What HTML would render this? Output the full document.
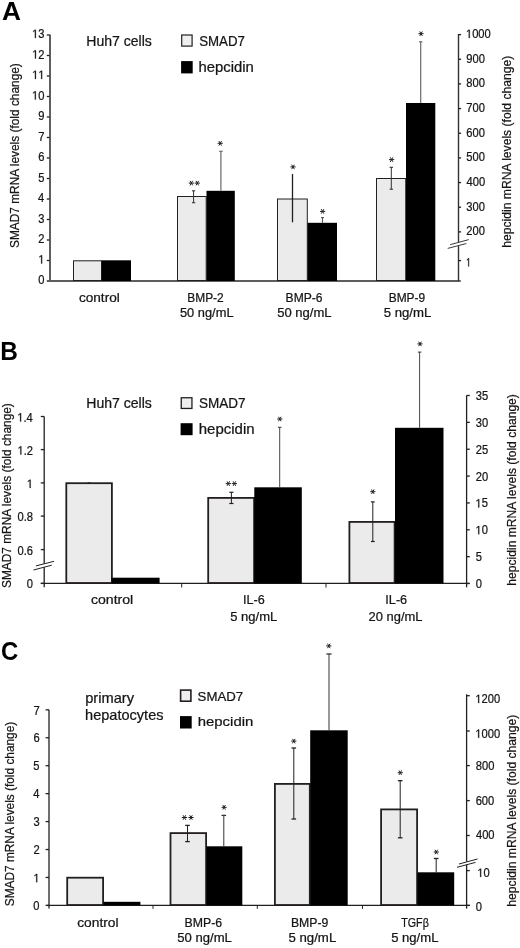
<!DOCTYPE html>
<html><head><meta charset="utf-8"><style>
html,body{margin:0;padding:0;background:#fff;overflow:hidden;width:520px;height:948px;}
svg{display:block;font-family:"Liberation Sans",sans-serif;will-change:transform;}
</style></head><body>
<svg width="520" height="948" viewBox="0 0 520 948">
<rect x="0" y="0" width="520" height="948" fill="#fff"/>
<text x="1.95" y="19.60" font-size="25" font-weight="bold" textLength="18.94" lengthAdjust="spacingAndGlyphs" fill="#000">A</text>
<text x="86.25" y="45.90" font-size="14" textLength="65.66" lengthAdjust="spacingAndGlyphs" fill="#151515" stroke="#151515" stroke-width="0.24">Huh7 cells</text>
<rect x="181.70" y="35.00" width="10.40" height="11.10" fill="#efefef" stroke="#231f20" stroke-width="1.2"/>
<text x="199.20" y="46.00" font-size="14" textLength="45.67" lengthAdjust="spacingAndGlyphs" fill="#151515" stroke="#151515" stroke-width="0.24">SMAD7</text>
<rect x="181.10" y="61.10" width="11.60" height="12.30" fill="#000"/>
<text x="198.57" y="72.20" font-size="14" textLength="55.29" lengthAdjust="spacingAndGlyphs" fill="#151515" stroke="#151515" stroke-width="0.24">hepcidin</text>
<line x1="50.00" y1="34.50" x2="50.00" y2="282.00" stroke="#5e5e5e" stroke-width="2.0"/>
<line x1="46.80" y1="281.00" x2="49.50" y2="281.00" stroke="#231f20" stroke-width="1.3"/>
<text x="38.23" y="284.00" font-size="12" textLength="6.21" lengthAdjust="spacingAndGlyphs" fill="#151515" stroke="#151515" stroke-width="0.24">0</text>
<line x1="46.80" y1="260.50" x2="49.50" y2="260.50" stroke="#231f20" stroke-width="1.3"/>
<path transform="translate(38.338,263.500) scale(0.00545,-0.00586)" d="M515,0L696,0L696,1409L530,1409L197,1180L197,1010L515,1237Z" fill="#151515" stroke="#151515" stroke-width="44.0"/>
<text x="38.34" y="263.50" font-size="12" textLength="6.21" lengthAdjust="spacingAndGlyphs" fill="#151515" stroke="#151515" stroke-width="0.24"> </text>
<line x1="46.80" y1="240.00" x2="49.50" y2="240.00" stroke="#231f20" stroke-width="1.3"/>
<text x="38.35" y="243.00" font-size="12" textLength="6.21" lengthAdjust="spacingAndGlyphs" fill="#151515" stroke="#151515" stroke-width="0.24">2</text>
<line x1="46.80" y1="219.50" x2="49.50" y2="219.50" stroke="#231f20" stroke-width="1.3"/>
<text x="38.28" y="222.50" font-size="12" textLength="6.21" lengthAdjust="spacingAndGlyphs" fill="#151515" stroke="#151515" stroke-width="0.24">3</text>
<line x1="46.80" y1="199.00" x2="49.50" y2="199.00" stroke="#231f20" stroke-width="1.3"/>
<text x="38.12" y="202.00" font-size="12" textLength="6.21" lengthAdjust="spacingAndGlyphs" fill="#151515" stroke="#151515" stroke-width="0.24">4</text>
<line x1="46.80" y1="178.50" x2="49.50" y2="178.50" stroke="#231f20" stroke-width="1.3"/>
<text x="38.26" y="181.50" font-size="12" textLength="6.21" lengthAdjust="spacingAndGlyphs" fill="#151515" stroke="#151515" stroke-width="0.24">5</text>
<line x1="46.80" y1="158.00" x2="49.50" y2="158.00" stroke="#231f20" stroke-width="1.3"/>
<text x="38.28" y="161.00" font-size="12" textLength="6.21" lengthAdjust="spacingAndGlyphs" fill="#151515" stroke="#151515" stroke-width="0.24">6</text>
<line x1="46.80" y1="137.50" x2="49.50" y2="137.50" stroke="#231f20" stroke-width="1.3"/>
<text x="38.35" y="140.50" font-size="12" textLength="6.21" lengthAdjust="spacingAndGlyphs" fill="#151515" stroke="#151515" stroke-width="0.24">7</text>
<line x1="46.80" y1="117.00" x2="49.50" y2="117.00" stroke="#231f20" stroke-width="1.3"/>
<text x="38.32" y="120.00" font-size="12" textLength="6.21" lengthAdjust="spacingAndGlyphs" fill="#151515" stroke="#151515" stroke-width="0.24">9</text>
<line x1="46.80" y1="96.50" x2="49.50" y2="96.50" stroke="#231f20" stroke-width="1.3"/>
<path transform="translate(32.023,99.500) scale(0.00545,-0.00586)" d="M515,0L696,0L696,1409L530,1409L197,1180L197,1010L515,1237Z" fill="#151515" stroke="#151515" stroke-width="44.0"/>
<text x="32.02" y="99.50" font-size="12" textLength="12.41" lengthAdjust="spacingAndGlyphs" fill="#151515" stroke="#151515" stroke-width="0.24"> 0</text>
<line x1="46.80" y1="76.00" x2="49.50" y2="76.00" stroke="#231f20" stroke-width="1.3"/>
<path transform="translate(32.132,79.000) scale(0.00545,-0.00586)" d="M515,0L696,0L696,1409L530,1409L197,1180L197,1010L515,1237Z" fill="#151515" stroke="#151515" stroke-width="44.0"/>
<path transform="translate(38.338,79.000) scale(0.00545,-0.00586)" d="M515,0L696,0L696,1409L530,1409L197,1180L197,1010L515,1237Z" fill="#151515" stroke="#151515" stroke-width="44.0"/>
<text x="32.13" y="79.00" font-size="12" textLength="12.41" lengthAdjust="spacingAndGlyphs" fill="#151515" stroke="#151515" stroke-width="0.24">  </text>
<line x1="46.80" y1="55.50" x2="49.50" y2="55.50" stroke="#231f20" stroke-width="1.3"/>
<path transform="translate(32.148,58.500) scale(0.00545,-0.00586)" d="M515,0L696,0L696,1409L530,1409L197,1180L197,1010L515,1237Z" fill="#151515" stroke="#151515" stroke-width="44.0"/>
<text x="32.15" y="58.50" font-size="12" textLength="12.41" lengthAdjust="spacingAndGlyphs" fill="#151515" stroke="#151515" stroke-width="0.24"> 2</text>
<line x1="46.80" y1="35.00" x2="49.50" y2="35.00" stroke="#231f20" stroke-width="1.3"/>
<path transform="translate(32.077,38.000) scale(0.00545,-0.00586)" d="M515,0L696,0L696,1409L530,1409L197,1180L197,1010L515,1237Z" fill="#151515" stroke="#151515" stroke-width="44.0"/>
<text x="32.08" y="38.00" font-size="12" textLength="12.41" lengthAdjust="spacingAndGlyphs" fill="#151515" stroke="#151515" stroke-width="0.24"> 3</text>
<line x1="47.00" y1="281.00" x2="460.70" y2="281.00" stroke="#5e5e5e" stroke-width="2.0"/>
<line x1="458.50" y1="34.00" x2="458.50" y2="242.30" stroke="#333" stroke-width="1.4"/>
<line x1="458.50" y1="245.80" x2="458.50" y2="281.00" stroke="#333" stroke-width="1.4"/>
<line x1="458.50" y1="34.60" x2="461.10" y2="34.60" stroke="#231f20" stroke-width="1.3"/>
<path transform="translate(465.950,38.000) scale(0.00545,-0.00586)" d="M515,0L696,0L696,1409L530,1409L197,1180L197,1010L515,1237Z" fill="#151515" stroke="#151515" stroke-width="44.0"/>
<text x="465.95" y="38.00" font-size="12" textLength="24.83" lengthAdjust="spacingAndGlyphs" fill="#151515" stroke="#151515" stroke-width="0.24"> 000</text>
<line x1="458.50" y1="59.26" x2="461.10" y2="59.26" stroke="#231f20" stroke-width="1.3"/>
<text x="466.28" y="62.66" font-size="12" textLength="18.62" lengthAdjust="spacingAndGlyphs" fill="#151515" stroke="#151515" stroke-width="0.24">900</text>
<line x1="458.50" y1="83.92" x2="461.10" y2="83.92" stroke="#231f20" stroke-width="1.3"/>
<text x="466.32" y="87.32" font-size="12" textLength="18.62" lengthAdjust="spacingAndGlyphs" fill="#151515" stroke="#151515" stroke-width="0.24">800</text>
<line x1="458.50" y1="108.58" x2="461.10" y2="108.58" stroke="#231f20" stroke-width="1.3"/>
<text x="466.23" y="111.98" font-size="12" textLength="18.62" lengthAdjust="spacingAndGlyphs" fill="#151515" stroke="#151515" stroke-width="0.24">700</text>
<line x1="458.50" y1="133.24" x2="461.10" y2="133.24" stroke="#231f20" stroke-width="1.3"/>
<text x="466.23" y="136.64" font-size="12" textLength="18.62" lengthAdjust="spacingAndGlyphs" fill="#151515" stroke="#151515" stroke-width="0.24">600</text>
<line x1="458.50" y1="157.90" x2="461.10" y2="157.90" stroke="#231f20" stroke-width="1.3"/>
<text x="466.35" y="161.30" font-size="12" textLength="18.62" lengthAdjust="spacingAndGlyphs" fill="#151515" stroke="#151515" stroke-width="0.24">500</text>
<line x1="458.50" y1="182.56" x2="461.10" y2="182.56" stroke="#231f20" stroke-width="1.3"/>
<text x="466.54" y="185.96" font-size="12" textLength="18.62" lengthAdjust="spacingAndGlyphs" fill="#151515" stroke="#151515" stroke-width="0.24">400</text>
<line x1="458.50" y1="207.22" x2="461.10" y2="207.22" stroke="#231f20" stroke-width="1.3"/>
<text x="466.37" y="210.62" font-size="12" textLength="18.62" lengthAdjust="spacingAndGlyphs" fill="#151515" stroke="#151515" stroke-width="0.24">300</text>
<line x1="458.50" y1="231.88" x2="461.10" y2="231.88" stroke="#231f20" stroke-width="1.3"/>
<text x="466.24" y="235.28" font-size="12" textLength="18.62" lengthAdjust="spacingAndGlyphs" fill="#151515" stroke="#151515" stroke-width="0.24">200</text>
<line x1="458.50" y1="260.60" x2="461.10" y2="260.60" stroke="#231f20" stroke-width="1.3"/>
<path transform="translate(466.417,266.400) scale(0.00374,-0.00586)" d="M515,0L696,0L696,1409L530,1409L197,1180L197,1010L515,1237Z" fill="#151515" stroke="#151515" stroke-width="64.2"/>
<text x="466.42" y="266.40" font-size="12" textLength="4.26" lengthAdjust="spacingAndGlyphs" fill="#151515" stroke="#151515" stroke-width="0.24"> </text>
<line x1="450.10" y1="244.70" x2="468.80" y2="239.60" stroke="#3a3a3a" stroke-width="1.0"/>
<line x1="447.70" y1="248.40" x2="466.40" y2="243.50" stroke="#3a3a3a" stroke-width="1.0"/>
<text transform="translate(18.60,247.50) rotate(-90)" x="-0.54" y="0" font-size="13" textLength="184.87" lengthAdjust="spacingAndGlyphs" fill="#151515" stroke="#151515" stroke-width="0.24">SMAD7 mRNA levels (fold change)</text>
<text transform="translate(510.80,246.90) rotate(-90)" x="-0.84" y="0" font-size="13" textLength="191.99" lengthAdjust="spacingAndGlyphs" fill="#151515" stroke="#151515" stroke-width="0.24">hepcidin mRNA levels (fold change)</text>
<rect x="73.50" y="260.80" width="28.00" height="19.70" fill="#ebebeb" stroke="#231f20" stroke-width="1.0"/>
<rect x="101.80" y="260.30" width="29.20" height="20.70" fill="#000"/>
<rect x="177.50" y="196.50" width="28.70" height="84.00" fill="#ebebeb" stroke="#231f20" stroke-width="1.0"/>
<rect x="206.50" y="190.80" width="28.30" height="90.20" fill="#000"/>
<rect x="277.50" y="199.00" width="29.80" height="81.50" fill="#ebebeb" stroke="#231f20" stroke-width="1.0"/>
<rect x="307.60" y="222.80" width="29.40" height="58.20" fill="#000"/>
<rect x="376.50" y="178.50" width="29.20" height="102.00" fill="#ebebeb" stroke="#231f20" stroke-width="1.0"/>
<rect x="406.00" y="103.00" width="29.30" height="178.00" fill="#000"/>
<line x1="193.60" y1="190.80" x2="193.60" y2="202.70" stroke="#333" stroke-width="1.0"/>
<line x1="192.00" y1="190.80" x2="195.20" y2="190.80" stroke="#333" stroke-width="1.1"/>
<line x1="192.00" y1="202.70" x2="195.20" y2="202.70" stroke="#333" stroke-width="1.1"/>
<line x1="220.90" y1="151.30" x2="220.90" y2="190.80" stroke="#6a6a6a" stroke-width="1.2"/>
<line x1="219.10" y1="151.30" x2="222.70" y2="151.30" stroke="#6a6a6a" stroke-width="1.2"/>
<line x1="292.50" y1="174.00" x2="292.50" y2="222.30" stroke="#231f20" stroke-width="1.3"/>
<line x1="322.50" y1="217.60" x2="322.50" y2="222.80" stroke="#555" stroke-width="1.1"/>
<line x1="321.00" y1="217.60" x2="324.00" y2="217.60" stroke="#555" stroke-width="1.1"/>
<line x1="391.30" y1="167.30" x2="391.30" y2="189.20" stroke="#333" stroke-width="1.0"/>
<line x1="389.60" y1="167.30" x2="393.00" y2="167.30" stroke="#333" stroke-width="1.1"/>
<line x1="389.60" y1="189.20" x2="393.00" y2="189.20" stroke="#333" stroke-width="1.1"/>
<line x1="420.70" y1="41.80" x2="420.70" y2="103.00" stroke="#6a6a6a" stroke-width="1.2"/>
<line x1="419.00" y1="41.80" x2="422.40" y2="41.80" stroke="#6a6a6a" stroke-width="1.2"/>
<path d="M188.75,183.10L193.95,183.10M190.05,180.85L192.65,185.35M192.65,180.85L190.05,185.35" stroke="#231f20" stroke-width="1.0" fill="none"/>
<path d="M194.70,183.10L199.90,183.10M196.00,180.85L198.60,185.35M198.60,180.85L196.00,185.35" stroke="#231f20" stroke-width="1.0" fill="none"/>
<path d="M217.60,143.30L222.80,143.30M218.90,141.05L221.50,145.55M221.50,141.05L218.90,145.55" stroke="#231f20" stroke-width="1.0" fill="none"/>
<path d="M290.40,166.90L295.60,166.90M291.70,164.65L294.30,169.15M294.30,164.65L291.70,169.15" stroke="#231f20" stroke-width="1.0" fill="none"/>
<path d="M320.00,211.40L325.20,211.40M321.30,209.15L323.90,213.65M323.90,209.15L321.30,213.65" stroke="#231f20" stroke-width="1.0" fill="none"/>
<path d="M389.00,159.60L394.20,159.60M390.30,157.35L392.90,161.85M392.90,157.35L390.30,161.85" stroke="#231f20" stroke-width="1.0" fill="none"/>
<path d="M418.40,33.70L423.60,33.70M419.70,31.45L422.30,35.95M422.30,31.45L419.70,35.95" stroke="#231f20" stroke-width="1.0" fill="none"/>
<text x="78.92" y="302.20" font-size="12.5" textLength="40.89" lengthAdjust="spacingAndGlyphs" fill="#151515" stroke="#151515" stroke-width="0.24">control</text>
<text x="187.32" y="301.80" font-size="12.5" textLength="36.37" lengthAdjust="spacingAndGlyphs" fill="#151515" stroke="#151515" stroke-width="0.24">BMP-2</text>
<text x="179.99" y="317.00" font-size="12.5" textLength="53.54" lengthAdjust="spacingAndGlyphs" fill="#151515" stroke="#151515" stroke-width="0.24">50 ng/mL</text>
<text x="285.61" y="301.80" font-size="12.5" textLength="36.92" lengthAdjust="spacingAndGlyphs" fill="#151515" stroke="#151515" stroke-width="0.24">BMP-6</text>
<text x="277.18" y="317.00" font-size="12.5" textLength="54.46" lengthAdjust="spacingAndGlyphs" fill="#151515" stroke="#151515" stroke-width="0.24">50 ng/mL</text>
<text x="388.72" y="301.80" font-size="12.5" textLength="36.44" lengthAdjust="spacingAndGlyphs" fill="#151515" stroke="#151515" stroke-width="0.24">BMP-9</text>
<text x="383.67" y="317.00" font-size="12.5" textLength="47.56" lengthAdjust="spacingAndGlyphs" fill="#151515" stroke="#151515" stroke-width="0.24">5 ng/mL</text>
<text x="0.17" y="360.00" font-size="25" font-weight="bold" textLength="17.64" lengthAdjust="spacingAndGlyphs" fill="#000">B</text>
<text x="86.25" y="408.10" font-size="14" textLength="65.56" lengthAdjust="spacingAndGlyphs" fill="#151515" stroke="#151515" stroke-width="0.24">Huh7 cells</text>
<rect x="181.25" y="397.75" width="10.70" height="10.70" fill="#efefef" stroke="#231f20" stroke-width="1.3"/>
<text x="198.89" y="408.00" font-size="14" textLength="46.59" lengthAdjust="spacingAndGlyphs" fill="#151515" stroke="#151515" stroke-width="0.24">SMAD7</text>
<rect x="180.60" y="423.20" width="12.00" height="12.00" fill="#000"/>
<text x="198.76" y="434.30" font-size="14" textLength="55.81" lengthAdjust="spacingAndGlyphs" fill="#151515" stroke="#151515" stroke-width="0.24">hepcidin</text>
<line x1="44.20" y1="416.50" x2="44.20" y2="563.80" stroke="#231f20" stroke-width="1.3"/>
<line x1="44.20" y1="567.20" x2="44.20" y2="587.30" stroke="#231f20" stroke-width="1.3"/>
<line x1="40.80" y1="416.50" x2="44.20" y2="416.50" stroke="#231f20" stroke-width="1.3"/>
<path transform="translate(17.313,421.500) scale(0.00545,-0.00586)" d="M515,0L696,0L696,1409L530,1409L197,1180L197,1010L515,1237Z" fill="#151515" stroke="#151515" stroke-width="44.0"/>
<text x="17.31" y="421.50" font-size="12" textLength="15.51" lengthAdjust="spacingAndGlyphs" fill="#151515" stroke="#151515" stroke-width="0.24"> .4</text>
<line x1="40.80" y1="449.60" x2="44.20" y2="449.60" stroke="#231f20" stroke-width="1.3"/>
<path transform="translate(17.547,454.600) scale(0.00545,-0.00586)" d="M515,0L696,0L696,1409L530,1409L197,1180L197,1010L515,1237Z" fill="#151515" stroke="#151515" stroke-width="44.0"/>
<text x="17.55" y="454.60" font-size="12" textLength="15.51" lengthAdjust="spacingAndGlyphs" fill="#151515" stroke="#151515" stroke-width="0.24"> .2</text>
<line x1="40.80" y1="482.90" x2="44.20" y2="482.90" stroke="#231f20" stroke-width="1.3"/>
<path transform="translate(26.838,487.900) scale(0.00545,-0.00586)" d="M515,0L696,0L696,1409L530,1409L197,1180L197,1010L515,1237Z" fill="#151515" stroke="#151515" stroke-width="44.0"/>
<text x="26.84" y="487.90" font-size="12" textLength="6.21" lengthAdjust="spacingAndGlyphs" fill="#151515" stroke="#151515" stroke-width="0.24"> </text>
<line x1="40.80" y1="516.10" x2="44.20" y2="516.10" stroke="#231f20" stroke-width="1.3"/>
<text x="17.47" y="521.10" font-size="12" textLength="15.51" lengthAdjust="spacingAndGlyphs" fill="#151515" stroke="#151515" stroke-width="0.24">0.8</text>
<line x1="40.80" y1="549.60" x2="44.20" y2="549.60" stroke="#231f20" stroke-width="1.3"/>
<text x="17.48" y="554.60" font-size="12" textLength="15.51" lengthAdjust="spacingAndGlyphs" fill="#151515" stroke="#151515" stroke-width="0.24">0.6</text>
<line x1="40.80" y1="583.40" x2="44.20" y2="583.40" stroke="#231f20" stroke-width="1.3"/>
<text x="26.73" y="588.40" font-size="12" textLength="6.21" lengthAdjust="spacingAndGlyphs" fill="#151515" stroke="#151515" stroke-width="0.24">0</text>
<line x1="35.90" y1="565.90" x2="54.10" y2="561.30" stroke="#231f20" stroke-width="1.0"/>
<line x1="33.50" y1="570.00" x2="51.70" y2="565.20" stroke="#231f20" stroke-width="1.0"/>
<line x1="40.80" y1="583.40" x2="469.50" y2="583.40" stroke="#231f20" stroke-width="1.3"/>
<line x1="181.70" y1="583.40" x2="181.70" y2="587.50" stroke="#231f20" stroke-width="1.0"/>
<line x1="326.00" y1="583.40" x2="326.00" y2="587.50" stroke="#231f20" stroke-width="1.0"/>
<line x1="466.60" y1="395.50" x2="466.60" y2="587.30" stroke="#231f20" stroke-width="1.3"/>
<line x1="466.60" y1="395.50" x2="469.80" y2="395.50" stroke="#231f20" stroke-width="1.3"/>
<text x="475.87" y="400.00" font-size="12" textLength="12.41" lengthAdjust="spacingAndGlyphs" fill="#151515" stroke="#151515" stroke-width="0.24">35</text>
<line x1="466.60" y1="422.36" x2="469.80" y2="422.36" stroke="#231f20" stroke-width="1.3"/>
<text x="475.87" y="426.86" font-size="12" textLength="12.41" lengthAdjust="spacingAndGlyphs" fill="#151515" stroke="#151515" stroke-width="0.24">30</text>
<line x1="466.60" y1="449.22" x2="469.80" y2="449.22" stroke="#231f20" stroke-width="1.3"/>
<text x="475.74" y="453.72" font-size="12" textLength="12.41" lengthAdjust="spacingAndGlyphs" fill="#151515" stroke="#151515" stroke-width="0.24">25</text>
<line x1="466.60" y1="476.08" x2="469.80" y2="476.08" stroke="#231f20" stroke-width="1.3"/>
<text x="475.74" y="480.58" font-size="12" textLength="12.41" lengthAdjust="spacingAndGlyphs" fill="#151515" stroke="#151515" stroke-width="0.24">20</text>
<line x1="466.60" y1="502.94" x2="469.80" y2="502.94" stroke="#231f20" stroke-width="1.3"/>
<path transform="translate(475.450,507.440) scale(0.00545,-0.00586)" d="M515,0L696,0L696,1409L530,1409L197,1180L197,1010L515,1237Z" fill="#151515" stroke="#151515" stroke-width="44.0"/>
<text x="475.45" y="507.44" font-size="12" textLength="12.41" lengthAdjust="spacingAndGlyphs" fill="#151515" stroke="#151515" stroke-width="0.24"> 5</text>
<line x1="466.60" y1="529.80" x2="469.80" y2="529.80" stroke="#231f20" stroke-width="1.3"/>
<path transform="translate(475.450,534.300) scale(0.00545,-0.00586)" d="M515,0L696,0L696,1409L530,1409L197,1180L197,1010L515,1237Z" fill="#151515" stroke="#151515" stroke-width="44.0"/>
<text x="475.45" y="534.30" font-size="12" textLength="12.41" lengthAdjust="spacingAndGlyphs" fill="#151515" stroke="#151515" stroke-width="0.24"> 0</text>
<line x1="466.60" y1="556.66" x2="469.80" y2="556.66" stroke="#231f20" stroke-width="1.3"/>
<text x="475.85" y="561.16" font-size="12" textLength="6.21" lengthAdjust="spacingAndGlyphs" fill="#151515" stroke="#151515" stroke-width="0.24">5</text>
<line x1="466.60" y1="583.52" x2="469.80" y2="583.52" stroke="#231f20" stroke-width="1.3"/>
<text x="475.86" y="588.02" font-size="12" textLength="6.21" lengthAdjust="spacingAndGlyphs" fill="#151515" stroke="#151515" stroke-width="0.24">0</text>
<text transform="translate(11.00,587.50) rotate(-90)" x="-0.54" y="0" font-size="13" textLength="184.87" lengthAdjust="spacingAndGlyphs" fill="#151515" stroke="#151515" stroke-width="0.24">SMAD7 mRNA levels (fold change)</text>
<text transform="translate(516.10,584.80) rotate(-90)" x="-0.84" y="0" font-size="13" textLength="191.48" lengthAdjust="spacingAndGlyphs" fill="#151515" stroke="#151515" stroke-width="0.24">hepcidin mRNA levels (fold change)</text>
<rect x="66.30" y="483.20" width="45.60" height="99.80" fill="#ebebeb" stroke="#231f20" stroke-width="1.8"/>
<rect x="111.50" y="577.70" width="48.10" height="5.70" fill="#000"/>
<rect x="208.20" y="497.90" width="45.90" height="85.10" fill="#ebebeb" stroke="#231f20" stroke-width="1.8"/>
<rect x="254.30" y="487.30" width="47.50" height="96.10" fill="#000"/>
<rect x="349.40" y="521.90" width="45.20" height="61.10" fill="#ebebeb" stroke="#231f20" stroke-width="1.8"/>
<rect x="395.00" y="427.80" width="48.50" height="155.60" fill="#000"/>
<line x1="87.50" y1="482.90" x2="90.50" y2="482.90" stroke="#231f20" stroke-width="1.0"/>
<line x1="231.40" y1="492.30" x2="231.40" y2="503.50" stroke="#231f20" stroke-width="1.0"/>
<line x1="229.30" y1="492.30" x2="233.50" y2="492.30" stroke="#231f20" stroke-width="1.2"/>
<line x1="229.30" y1="503.50" x2="233.50" y2="503.50" stroke="#231f20" stroke-width="1.2"/>
<line x1="279.70" y1="427.30" x2="279.70" y2="487.30" stroke="#333" stroke-width="0.9"/>
<line x1="277.95" y1="427.30" x2="281.45" y2="427.30" stroke="#333" stroke-width="1.0"/>
<line x1="372.80" y1="501.90" x2="372.80" y2="541.50" stroke="#231f20" stroke-width="1.0"/>
<line x1="370.90" y1="501.90" x2="374.70" y2="501.90" stroke="#231f20" stroke-width="1.2"/>
<line x1="370.90" y1="541.50" x2="374.70" y2="541.50" stroke="#231f20" stroke-width="1.2"/>
<line x1="419.60" y1="352.10" x2="419.60" y2="427.80" stroke="#333" stroke-width="0.9"/>
<line x1="417.85" y1="352.10" x2="421.35" y2="352.10" stroke="#333" stroke-width="1.0"/>
<path d="M225.70,483.60L230.90,483.60M227.00,481.35L229.60,485.85M229.60,481.35L227.00,485.85" stroke="#231f20" stroke-width="1.0" fill="none"/>
<path d="M231.80,483.60L237.00,483.60M233.10,481.35L235.70,485.85M235.70,481.35L233.10,485.85" stroke="#231f20" stroke-width="1.0" fill="none"/>
<path d="M277.20,419.00L282.40,419.00M278.50,416.75L281.10,421.25M281.10,416.75L278.50,421.25" stroke="#231f20" stroke-width="1.0" fill="none"/>
<path d="M370.20,491.70L375.40,491.70M371.50,489.45L374.10,493.95M374.10,489.45L371.50,493.95" stroke="#231f20" stroke-width="1.0" fill="none"/>
<path d="M417.40,343.90L422.60,343.90M418.70,341.65L421.30,346.15M421.30,341.65L418.70,346.15" stroke="#231f20" stroke-width="1.0" fill="none"/>
<text x="90.90" y="604.20" font-size="12.5" textLength="42.34" lengthAdjust="spacingAndGlyphs" fill="#151515" stroke="#151515" stroke-width="0.24">control</text>
<text x="243.04" y="604.20" font-size="12.5" textLength="21.72" lengthAdjust="spacingAndGlyphs" fill="#151515" stroke="#151515" stroke-width="0.24">IL-6</text>
<text x="230.28" y="620.50" font-size="12.5" textLength="47.05" lengthAdjust="spacingAndGlyphs" fill="#151515" stroke="#151515" stroke-width="0.24">5 ng/mL</text>
<text x="385.33" y="604.20" font-size="12.5" textLength="21.83" lengthAdjust="spacingAndGlyphs" fill="#151515" stroke="#151515" stroke-width="0.24">IL-6</text>
<text x="368.55" y="620.50" font-size="12.5" textLength="53.88" lengthAdjust="spacingAndGlyphs" fill="#151515" stroke="#151515" stroke-width="0.24">20 ng/mL</text>
<text x="1.02" y="660.00" font-size="25" font-weight="bold" textLength="17.23" lengthAdjust="spacingAndGlyphs" fill="#000">C</text>
<text x="85.16" y="703.20" font-size="14.5" textLength="48.87" lengthAdjust="spacingAndGlyphs" fill="#151515" stroke="#151515" stroke-width="0.24">primary</text>
<text x="85.09" y="719.50" font-size="14.5" textLength="78.43" lengthAdjust="spacingAndGlyphs" fill="#151515" stroke="#151515" stroke-width="0.24">hepatocytes</text>
<rect x="180.60" y="690.10" width="10.30" height="11.10" fill="#efefef" stroke="#231f20" stroke-width="1.6"/>
<text x="197.60" y="700.90" font-size="13.5" textLength="45.46" lengthAdjust="spacingAndGlyphs" fill="#151515" stroke="#151515" stroke-width="0.24">SMAD7</text>
<rect x="180.00" y="716.10" width="11.70" height="12.40" fill="#000"/>
<text x="197.77" y="726.10" font-size="13.5" textLength="55.50" lengthAdjust="spacingAndGlyphs" fill="#151515" stroke="#151515" stroke-width="0.24">hepcidin</text>
<line x1="49.00" y1="709.70" x2="49.00" y2="908.50" stroke="#231f20" stroke-width="1.3"/>
<line x1="45.60" y1="905.40" x2="49.00" y2="905.40" stroke="#231f20" stroke-width="1.3"/>
<text x="33.33" y="910.10" font-size="12" textLength="6.21" lengthAdjust="spacingAndGlyphs" fill="#151515" stroke="#151515" stroke-width="0.24">0</text>
<line x1="45.60" y1="877.46" x2="49.00" y2="877.46" stroke="#231f20" stroke-width="1.3"/>
<path transform="translate(33.438,882.160) scale(0.00545,-0.00586)" d="M515,0L696,0L696,1409L530,1409L197,1180L197,1010L515,1237Z" fill="#151515" stroke="#151515" stroke-width="44.0"/>
<text x="33.44" y="882.16" font-size="12" textLength="6.21" lengthAdjust="spacingAndGlyphs" fill="#151515" stroke="#151515" stroke-width="0.24"> </text>
<line x1="45.60" y1="849.52" x2="49.00" y2="849.52" stroke="#231f20" stroke-width="1.3"/>
<text x="33.45" y="854.22" font-size="12" textLength="6.21" lengthAdjust="spacingAndGlyphs" fill="#151515" stroke="#151515" stroke-width="0.24">2</text>
<line x1="45.60" y1="821.58" x2="49.00" y2="821.58" stroke="#231f20" stroke-width="1.3"/>
<text x="33.38" y="826.28" font-size="12" textLength="6.21" lengthAdjust="spacingAndGlyphs" fill="#151515" stroke="#151515" stroke-width="0.24">3</text>
<line x1="45.60" y1="793.64" x2="49.00" y2="793.64" stroke="#231f20" stroke-width="1.3"/>
<text x="33.22" y="798.34" font-size="12" textLength="6.21" lengthAdjust="spacingAndGlyphs" fill="#151515" stroke="#151515" stroke-width="0.24">4</text>
<line x1="45.60" y1="765.70" x2="49.00" y2="765.70" stroke="#231f20" stroke-width="1.3"/>
<text x="33.36" y="770.40" font-size="12" textLength="6.21" lengthAdjust="spacingAndGlyphs" fill="#151515" stroke="#151515" stroke-width="0.24">5</text>
<line x1="45.60" y1="737.76" x2="49.00" y2="737.76" stroke="#231f20" stroke-width="1.3"/>
<text x="33.38" y="742.46" font-size="12" textLength="6.21" lengthAdjust="spacingAndGlyphs" fill="#151515" stroke="#151515" stroke-width="0.24">6</text>
<line x1="45.60" y1="709.82" x2="49.00" y2="709.82" stroke="#231f20" stroke-width="1.3"/>
<text x="33.45" y="714.52" font-size="12" textLength="6.21" lengthAdjust="spacingAndGlyphs" fill="#151515" stroke="#151515" stroke-width="0.24">7</text>
<line x1="47.00" y1="905.40" x2="469.80" y2="905.40" stroke="#231f20" stroke-width="1.3"/>
<line x1="153.00" y1="905.40" x2="153.00" y2="908.80" stroke="#231f20" stroke-width="1.0"/>
<line x1="257.30" y1="905.40" x2="257.30" y2="908.80" stroke="#231f20" stroke-width="1.0"/>
<line x1="362.50" y1="905.40" x2="362.50" y2="908.80" stroke="#231f20" stroke-width="1.0"/>
<line x1="466.60" y1="694.30" x2="466.60" y2="861.60" stroke="#231f20" stroke-width="1.3"/>
<line x1="466.60" y1="864.60" x2="466.60" y2="908.60" stroke="#231f20" stroke-width="1.3"/>
<line x1="466.60" y1="695.70" x2="469.80" y2="695.70" stroke="#231f20" stroke-width="1.3"/>
<path transform="translate(475.350,703.100) scale(0.00545,-0.00586)" d="M515,0L696,0L696,1409L530,1409L197,1180L197,1010L515,1237Z" fill="#151515" stroke="#151515" stroke-width="44.0"/>
<text x="475.35" y="703.10" font-size="12" textLength="24.83" lengthAdjust="spacingAndGlyphs" fill="#151515" stroke="#151515" stroke-width="0.24"> 200</text>
<line x1="466.60" y1="731.00" x2="469.80" y2="731.00" stroke="#231f20" stroke-width="1.3"/>
<path transform="translate(475.350,737.800) scale(0.00545,-0.00586)" d="M515,0L696,0L696,1409L530,1409L197,1180L197,1010L515,1237Z" fill="#151515" stroke="#151515" stroke-width="44.0"/>
<text x="475.35" y="737.80" font-size="12" textLength="24.83" lengthAdjust="spacingAndGlyphs" fill="#151515" stroke="#151515" stroke-width="0.24"> 000</text>
<line x1="466.60" y1="765.60" x2="469.80" y2="765.60" stroke="#231f20" stroke-width="1.3"/>
<text x="475.72" y="770.00" font-size="12" textLength="18.62" lengthAdjust="spacingAndGlyphs" fill="#151515" stroke="#151515" stroke-width="0.24">800</text>
<line x1="466.60" y1="800.60" x2="469.80" y2="800.60" stroke="#231f20" stroke-width="1.3"/>
<text x="475.63" y="804.60" font-size="12" textLength="18.62" lengthAdjust="spacingAndGlyphs" fill="#151515" stroke="#151515" stroke-width="0.24">600</text>
<line x1="466.60" y1="835.50" x2="469.80" y2="835.50" stroke="#231f20" stroke-width="1.3"/>
<text x="475.94" y="839.30" font-size="12" textLength="18.62" lengthAdjust="spacingAndGlyphs" fill="#151515" stroke="#151515" stroke-width="0.24">400</text>
<line x1="466.60" y1="870.60" x2="469.80" y2="870.60" stroke="#231f20" stroke-width="1.3"/>
<path transform="translate(477.350,876.900) scale(0.00545,-0.00586)" d="M515,0L696,0L696,1409L530,1409L197,1180L197,1010L515,1237Z" fill="#151515" stroke="#151515" stroke-width="44.0"/>
<text x="477.35" y="876.90" font-size="12" textLength="12.41" lengthAdjust="spacingAndGlyphs" fill="#151515" stroke="#151515" stroke-width="0.24"> 0</text>
<line x1="466.60" y1="905.40" x2="469.80" y2="905.40" stroke="#231f20" stroke-width="1.3"/>
<text x="475.76" y="910.50" font-size="12" textLength="6.21" lengthAdjust="spacingAndGlyphs" fill="#151515" stroke="#151515" stroke-width="0.24">0</text>
<line x1="459.00" y1="864.00" x2="477.50" y2="859.00" stroke="#231f20" stroke-width="1.0"/>
<line x1="457.00" y1="867.30" x2="475.50" y2="862.40" stroke="#231f20" stroke-width="1.0"/>
<text transform="translate(13.70,905.70) rotate(-90)" x="-0.54" y="0" font-size="13" textLength="184.47" lengthAdjust="spacingAndGlyphs" fill="#151515" stroke="#151515" stroke-width="0.24">SMAD7 mRNA levels (fold change)</text>
<text transform="translate(516.10,905.80) rotate(-90)" x="-0.84" y="0" font-size="13" textLength="191.89" lengthAdjust="spacingAndGlyphs" fill="#151515" stroke="#151515" stroke-width="0.24">hepcidin mRNA levels (fold change)</text>
<rect x="67.20" y="877.70" width="35.90" height="27.30" fill="#ebebeb" stroke="#231f20" stroke-width="1.8"/>
<rect x="103.50" y="901.80" width="36.90" height="3.60" fill="#000"/>
<rect x="170.50" y="833.10" width="35.60" height="71.90" fill="#ebebeb" stroke="#231f20" stroke-width="1.8"/>
<rect x="206.50" y="846.30" width="35.80" height="59.10" fill="#000"/>
<rect x="274.90" y="783.90" width="34.90" height="121.10" fill="#ebebeb" stroke="#231f20" stroke-width="1.8"/>
<rect x="310.20" y="730.30" width="37.50" height="175.10" fill="#000"/>
<rect x="381.10" y="809.40" width="36.00" height="95.60" fill="#ebebeb" stroke="#231f20" stroke-width="1.8"/>
<rect x="417.50" y="872.30" width="36.70" height="33.10" fill="#000"/>
<line x1="187.50" y1="825.40" x2="187.50" y2="841.60" stroke="#231f20" stroke-width="1.0"/>
<line x1="185.20" y1="825.40" x2="189.80" y2="825.40" stroke="#231f20" stroke-width="1.3"/>
<line x1="185.20" y1="841.60" x2="189.80" y2="841.60" stroke="#231f20" stroke-width="1.3"/>
<line x1="223.80" y1="815.40" x2="223.80" y2="846.30" stroke="#333" stroke-width="1.0"/>
<line x1="221.50" y1="815.40" x2="226.10" y2="815.40" stroke="#333" stroke-width="1.3"/>
<line x1="293.80" y1="748.00" x2="293.80" y2="819.00" stroke="#231f20" stroke-width="1.0"/>
<line x1="291.50" y1="748.00" x2="296.10" y2="748.00" stroke="#231f20" stroke-width="1.3"/>
<line x1="291.50" y1="819.00" x2="296.10" y2="819.00" stroke="#231f20" stroke-width="1.3"/>
<line x1="329.00" y1="654.00" x2="329.00" y2="730.30" stroke="#333" stroke-width="1.0"/>
<line x1="326.40" y1="654.00" x2="331.60" y2="654.00" stroke="#333" stroke-width="1.3"/>
<line x1="400.20" y1="780.70" x2="400.20" y2="837.80" stroke="#231f20" stroke-width="1.0"/>
<line x1="397.90" y1="780.70" x2="402.50" y2="780.70" stroke="#231f20" stroke-width="1.3"/>
<line x1="397.90" y1="837.80" x2="402.50" y2="837.80" stroke="#231f20" stroke-width="1.3"/>
<line x1="436.20" y1="858.50" x2="436.20" y2="872.30" stroke="#231f20" stroke-width="1.0"/>
<line x1="433.90" y1="858.50" x2="438.50" y2="858.50" stroke="#231f20" stroke-width="1.3"/>
<path d="M181.80,817.50L187.00,817.50M183.10,815.25L185.70,819.75M185.70,815.25L183.10,819.75" stroke="#231f20" stroke-width="1.0" fill="none"/>
<path d="M188.40,817.50L193.60,817.50M189.70,815.25L192.30,819.75M192.30,815.25L189.70,819.75" stroke="#231f20" stroke-width="1.0" fill="none"/>
<path d="M221.50,807.30L226.70,807.30M222.80,805.05L225.40,809.55M225.40,805.05L222.80,809.55" stroke="#231f20" stroke-width="1.0" fill="none"/>
<path d="M291.20,741.10L296.40,741.10M292.50,738.85L295.10,743.35M295.10,738.85L292.50,743.35" stroke="#231f20" stroke-width="1.0" fill="none"/>
<path d="M326.20,645.90L331.40,645.90M327.50,643.65L330.10,648.15M330.10,643.65L327.50,648.15" stroke="#231f20" stroke-width="1.0" fill="none"/>
<path d="M397.70,772.70L402.90,772.70M399.00,770.45L401.60,774.95M401.60,770.45L399.00,774.95" stroke="#231f20" stroke-width="1.0" fill="none"/>
<path d="M433.70,852.00L438.90,852.00M435.00,849.75L437.60,854.25M437.60,849.75L435.00,854.25" stroke="#231f20" stroke-width="1.0" fill="none"/>
<text x="77.22" y="926.70" font-size="12.5" textLength="41.31" lengthAdjust="spacingAndGlyphs" fill="#151515" stroke="#151515" stroke-width="0.24">control</text>
<text x="184.59" y="927.00" font-size="12.5" textLength="37.55" lengthAdjust="spacingAndGlyphs" fill="#151515" stroke="#151515" stroke-width="0.24">BMP-6</text>
<text x="177.28" y="942.30" font-size="12.5" textLength="54.56" lengthAdjust="spacingAndGlyphs" fill="#151515" stroke="#151515" stroke-width="0.24">50 ng/mL</text>
<text x="290.90" y="927.00" font-size="12.5" textLength="37.38" lengthAdjust="spacingAndGlyphs" fill="#151515" stroke="#151515" stroke-width="0.24">BMP-9</text>
<text x="288.47" y="942.30" font-size="12.5" textLength="47.77" lengthAdjust="spacingAndGlyphs" fill="#151515" stroke="#151515" stroke-width="0.24">5 ng/mL</text>
<text x="401.26" y="927.10" font-size="12.5" textLength="27.56" lengthAdjust="spacingAndGlyphs" fill="#151515" stroke="#151515" stroke-width="0.24">TGFβ</text>
<text x="391.18" y="942.30" font-size="12.5" textLength="47.26" lengthAdjust="spacingAndGlyphs" fill="#151515" stroke="#151515" stroke-width="0.24">5 ng/mL</text>
</svg>
</body></html>
